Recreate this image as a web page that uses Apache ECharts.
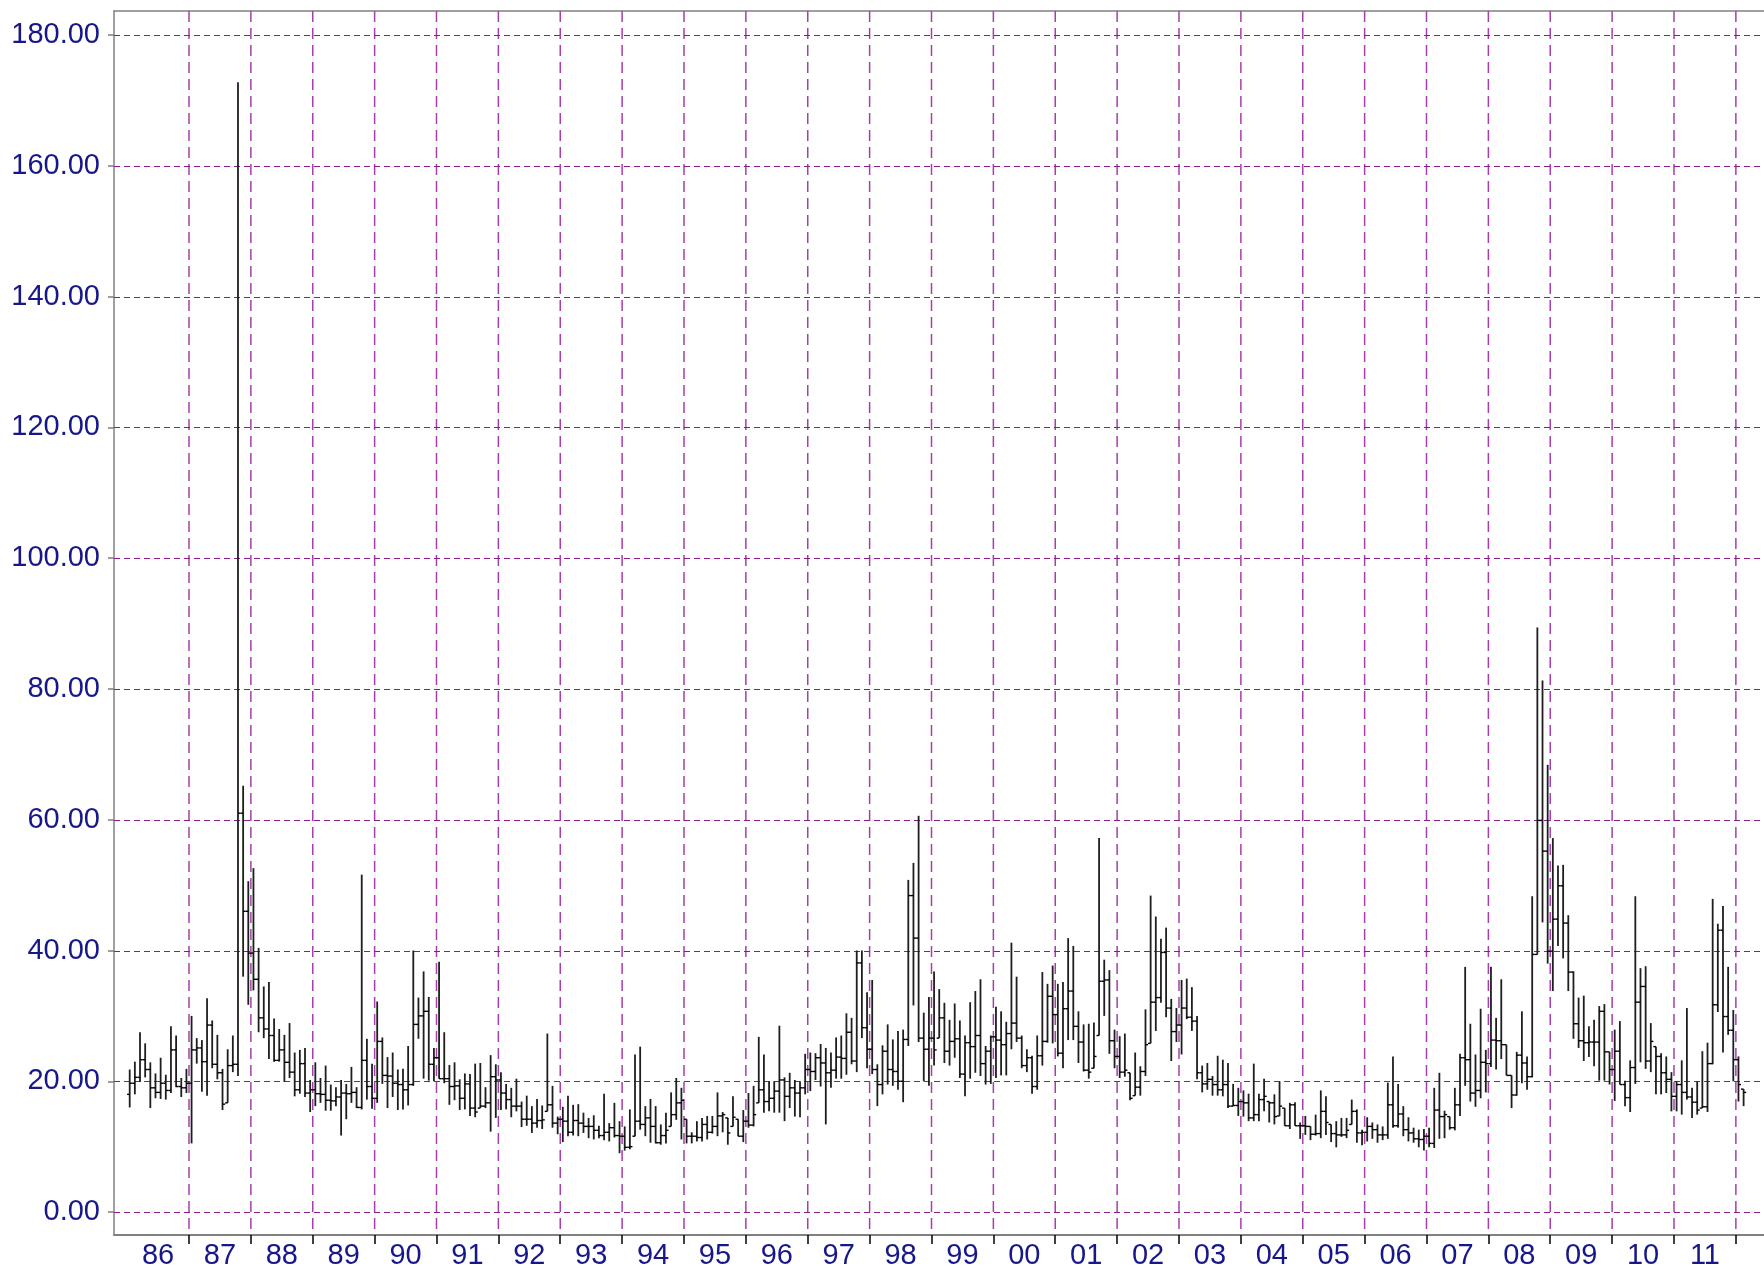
<!DOCTYPE html>
<html><head><meta charset="utf-8">
<script src="https://cdn.jsdelivr.net/npm/echarts@6/dist/echarts.min.js"></script>
<style>html,body{margin:0;padding:0;background:#fff}#c{width:1764px;height:1268px}</style>
</head><body><div id="c"></div>
<script>
// Monthly OHLC, Jan 1986 .. Feb 2012
const yearLabels = ['86','87','88','89','90','91','92','93','94','95','96','97','98','99','00','01','02','03','04','05','06','07','08','09','10','11'];
const yTicks = [0,20,40,60,80,100,120,140,160,180];
const opens = [
18.0,19.7,20.6,23.3,21.8,19.0,18.3,19.7,18.6,24.8,19.2,19.0,
19.7,24.8,25.1,23.0,28.6,22.6,21.3,16.7,22.4,22.6,61.0,46.0,
39.6,35.6,29.7,28.0,27.0,23.2,24.8,22.9,21.4,18.7,22.7,18.2,
18.7,18.1,18.0,17.1,17.0,17.6,18.2,18.1,18.3,16.0,23.2,19.2,
17.4,26.1,20.9,20.8,19.7,19.5,18.7,19.5,28.7,30.0,30.7,22.6,
23.6,20.4,20.4,19.2,19.3,17.4,19.6,15.9,15.9,16.2,16.7,20.7,
20.2,18.2,17.2,16.2,16.2,14.2,14.2,13.6,14.0,15.4,16.4,13.6,
14.2,13.9,12.2,14.0,13.6,13.1,13.1,12.5,11.7,12.2,12.9,11.7,
11.6,9.9,11.6,13.9,13.4,14.4,13.1,10.6,11.7,13.1,14.9,16.7,
14.2,11.6,11.6,11.4,13.4,12.2,13.1,14.7,14.4,13.1,14.2,11.6,
13.9,13.3,16.7,18.7,16.9,17.4,18.5,20.2,17.7,19.0,18.2,19.0,
21.8,21.5,23.6,22.8,21.3,21.7,23.7,23.5,27.5,23.1,38.1,28.2,
24.9,21.8,19.5,24.6,21.8,21.5,20.0,26.4,48.4,41.9,26.6,24.9,
26.6,26.6,29.7,24.6,26.1,26.5,21.1,25.9,25.3,27.0,22.7,24.6,
26.8,26.3,25.6,27.3,28.9,26.6,22.4,23.6,19.2,23.9,26.1,33.0,
30.2,24.3,31.1,33.8,28.4,26.0,21.7,22.0,27.0,35.3,35.5,26.2,
23.8,21.4,21.3,17.8,19.1,21.5,25.8,32.1,32.8,39.7,31.2,27.6,
28.6,31.2,29.8,29.2,21.3,19.6,20.3,19.5,18.7,19.5,16.2,16.3,
16.9,16.7,14.4,14.9,17.2,16.9,16.7,14.7,15.9,13.2,16.4,13.2,
13.2,13.1,11.9,12.0,15.4,13.4,12.0,11.8,11.8,13.4,15.4,12.1,
12.2,13.1,12.6,11.8,11.8,16.4,13.2,15.0,12.6,12.1,11.2,11.1,
11.6,10.5,15.6,14.6,14.6,12.9,16.4,23.6,23.3,18.2,18.6,22.9,
22.7,26.3,26.2,25.6,20.9,17.9,24.0,22.8,20.7,39.4,59.9,55.2,
39.9,44.8,49.9,44.2,36.7,28.8,26.2,25.9,26.0,26.0,30.7,24.5,
21.8,24.6,19.5,17.5,22.1,32.1,34.5,23.1,25.3,23.8,21.3,20.3,
17.7,19.5,18.3,17.6,16.8,15.9,16.1,22.7,31.7,43.1,29.9,27.8,
23.3,18.8];
const highs = [
21.8,23.0,27.5,25.8,22.9,21.2,23.6,21.0,28.4,27.0,20.5,21.9,
30.0,26.6,26.3,32.7,29.3,27.1,21.9,24.9,27.0,172.8,65.2,50.6,
52.6,40.4,34.5,35.2,29.6,28.0,27.1,28.9,24.4,24.8,25.1,20.2,
22.9,20.5,22.4,19.5,19.1,20.2,19.6,22.2,19.1,51.6,26.5,22.7,
32.2,26.7,23.7,24.4,21.8,21.9,25.4,40.0,32.8,36.8,32.9,25.1,
38.3,27.5,22.5,22.9,20.3,21.2,21.1,22.7,22.8,19.1,24.0,22.6,
21.4,19.6,19.0,20.4,16.9,17.8,16.2,17.3,16.3,27.3,19.3,14.6,
16.1,17.8,16.4,16.5,15.2,14.4,14.8,13.2,18.1,13.6,16.7,13.9,
13.1,15.7,24.1,25.3,16.2,17.3,16.2,13.4,15.2,18.3,20.5,19.0,
14.2,12.2,13.9,14.4,14.7,14.7,18.3,15.3,14.4,17.7,14.2,15.6,
18.2,19.3,26.8,24.1,20.0,20.0,28.5,20.6,21.3,20.2,20.0,24.2,
24.4,24.3,25.7,25.1,24.4,26.7,27.0,30.4,29.7,40.0,40.0,33.6,
35.5,22.6,25.5,28.7,26.4,27.7,27.9,50.8,53.4,60.6,30.5,32.9,
36.8,34.1,32.0,29.4,31.9,29.3,27.0,32.1,33.8,35.6,25.4,27.0,
31.4,30.7,29.1,41.2,36.0,27.0,24.9,23.9,27.0,36.7,34.9,37.7,
34.9,35.2,41.9,40.7,30.7,28.7,28.8,29.0,57.2,38.6,37.0,27.9,
26.9,27.3,21.3,24.4,22.3,31.0,48.4,45.2,41.8,43.5,32.6,31.2,
35.5,35.7,34.4,30.0,22.4,22.8,20.8,23.9,23.3,22.8,19.6,19.0,
18.6,18.1,22.7,18.1,20.4,16.9,18.0,20.0,15.9,16.7,16.8,13.7,
14.7,13.1,14.9,18.6,17.7,13.4,13.9,14.4,14.4,17.2,15.7,12.6,
14.5,13.7,13.4,13.1,19.8,23.8,19.6,16.2,14.5,12.9,12.6,12.7,
12.9,19.0,21.3,15.5,14.6,19.0,24.2,37.5,28.8,24.1,31.1,24.8,
37.5,29.7,35.6,25.6,20.9,24.5,30.7,23.8,48.3,89.4,81.3,68.4,
57.2,53.0,53.1,45.4,36.8,32.8,33.1,28.4,29.4,31.5,31.8,24.5,
27.9,29.2,20.1,23.2,48.3,37.3,37.6,28.9,25.3,24.3,23.8,21.4,
20.0,23.2,31.2,19.0,20.0,24.6,25.9,47.9,44.1,46.8,37.5,30.9,
23.8,18.8];
const lows = [
16.0,18.0,19.9,20.6,15.9,17.4,17.3,17.2,18.2,19.1,17.6,18.2,
10.5,22.7,18.4,17.8,22.0,20.3,15.6,16.7,21.4,20.8,36.0,31.7,
33.9,27.5,26.6,23.4,23.0,23.0,19.9,20.5,17.7,18.1,17.6,15.3,
16.2,16.7,15.5,15.5,16.2,11.7,14.2,16.7,15.9,15.7,17.2,15.8,
16.7,19.6,15.9,17.6,15.6,15.7,16.3,19.3,26.5,20.4,20.1,20.0,
20.4,19.7,16.4,17.1,15.6,15.7,14.7,14.5,15.9,15.9,12.3,14.4,
15.6,15.7,14.5,15.4,13.0,13.2,12.1,12.9,12.7,15.4,12.9,11.9,
10.7,11.6,11.7,11.6,12.1,11.3,11.1,11.3,11.0,10.8,11.4,9.0,
9.4,9.6,11.6,12.6,11.6,10.6,10.5,10.3,10.5,13.1,14.1,11.1,
10.5,10.5,10.8,10.8,11.1,12.0,11.6,12.2,10.3,13.1,11.6,10.7,
12.9,13.1,16.7,15.2,15.4,15.2,15.2,13.9,15.9,14.6,14.5,18.0,
18.5,20.2,19.2,13.4,19.0,20.4,20.4,21.0,22.6,21.4,26.6,22.0,
21.1,16.2,18.0,19.5,19.3,18.7,16.8,25.4,31.6,26.0,20.0,19.3,
22.4,26.6,22.8,22.4,23.6,20.5,17.7,20.4,21.3,20.8,19.5,19.6,
20.5,20.9,20.9,24.9,26.0,22.0,21.4,18.1,18.7,22.4,25.9,25.8,
23.8,22.0,26.3,26.3,22.8,21.5,20.4,22.0,27.0,30.0,24.2,22.0,
20.5,20.7,17.1,17.8,17.8,20.8,25.8,27.7,32.0,29.8,23.1,26.0,
24.1,29.5,27.7,20.3,18.3,18.7,17.8,17.8,17.7,15.9,16.2,14.7,
14.6,13.9,13.9,13.9,15.4,13.7,13.4,14.7,13.2,12.7,13.2,11.2,
11.8,11.0,11.7,11.3,11.8,10.7,9.9,11.5,11.3,13.4,10.6,10.2,
10.8,11.2,10.6,11.0,11.2,12.9,12.9,11.6,10.8,10.6,9.9,9.4,
9.9,9.8,11.2,11.3,12.6,12.5,14.7,19.3,16.9,16.1,17.4,18.3,
22.2,21.8,23.4,20.9,15.9,17.8,19.7,18.7,20.6,39.4,44.3,38.0,
33.8,40.7,38.8,33.8,26.5,25.1,23.1,23.7,22.3,20.1,20.1,19.5,
17.0,19.5,16.2,15.3,19.6,22.9,21.9,21.4,18.0,18.0,18.2,15.4,
15.4,14.9,17.2,14.4,14.9,15.9,15.3,22.6,30.6,24.4,27.1,20.0,
16.9,16.2];
const closes = [
19.7,20.6,23.3,21.8,19.0,18.3,19.7,18.6,24.8,19.2,19.0,19.7,
24.8,25.1,23.0,28.6,22.6,21.3,16.5,22.4,22.6,61.0,46.0,39.6,
35.6,29.7,28.0,27.0,23.2,24.8,22.9,21.4,18.7,22.7,18.2,18.7,
18.1,18.0,17.1,17.0,17.6,18.2,18.1,18.3,16.0,23.2,19.2,17.4,
26.1,20.9,20.8,19.7,19.5,18.7,19.5,28.7,30.0,30.7,22.6,23.6,
20.4,20.4,19.2,19.3,17.4,19.6,15.9,15.3,16.2,16.7,20.7,20.2,
18.2,17.2,16.2,16.2,14.2,14.2,13.6,14.0,14.1,16.4,13.6,14.2,
13.9,12.2,14.0,13.6,13.1,13.1,12.5,11.7,12.2,12.9,11.7,11.6,
9.9,10.0,13.9,13.4,14.4,13.1,10.6,11.7,12.5,14.9,16.7,17.1,
11.6,11.6,11.4,13.4,12.2,13.1,14.7,14.9,12.1,14.5,11.6,13.9,
13.3,14.9,18.7,16.9,17.4,18.5,20.2,17.7,19.0,18.2,19.0,21.8,
21.5,23.6,22.8,21.3,21.7,23.7,23.5,27.5,23.1,38.1,28.2,24.9,
21.8,19.5,24.6,21.8,21.5,20.0,26.4,48.4,41.9,26.6,24.9,26.6,
24.8,29.7,24.6,26.1,26.5,21.1,25.9,25.3,27.0,22.7,24.6,26.8,
26.3,25.6,27.3,28.9,26.6,22.4,23.6,19.2,23.9,26.1,33.0,30.2,
24.3,31.1,33.8,28.4,26.0,21.7,21.4,23.8,35.3,35.5,26.2,23.8,
21.4,21.7,17.4,19.1,21.5,25.6,32.1,32.8,39.7,31.2,27.6,28.6,
31.2,29.8,29.2,21.3,19.6,20.3,19.5,18.7,19.5,16.2,16.3,16.9,
16.7,14.4,14.9,17.2,17.7,16.7,14.6,16.2,13.2,16.4,13.2,13.2,
13.1,11.9,12.0,15.4,13.7,12.0,11.8,11.8,12.5,15.4,12.1,12.2,
13.1,12.6,11.8,11.8,16.4,13.2,15.0,12.6,12.1,11.2,11.1,11.6,
10.5,15.6,14.6,14.9,12.9,16.4,23.6,23.3,18.2,18.6,22.9,22.7,
26.3,26.2,25.6,20.9,17.9,24.0,22.8,20.7,39.4,59.9,55.2,39.9,
44.8,49.9,44.2,36.7,28.8,26.2,25.9,26.0,26.0,30.7,24.5,21.8,
24.6,19.5,17.5,22.1,32.1,34.5,23.1,26.1,23.8,21.3,20.3,17.7,
19.5,18.3,17.6,16.8,15.6,16.1,22.7,31.7,43.1,29.9,27.8,23.3,
19.5,18.3];

// x axis unit: months since Jan 1986; each bar sits in the middle of its month slot
const yearStarts = yearLabels.map((_, k) => (k + 1) * 12);     // 1987 .. 2012 boundaries
const yearMids = yearLabels.map((_, k) => k * 12 + 6);
const ohlc = opens.map((o, i) => [i + 0.5, o, closes[i], lows[i], highs[i]]);

const NAVY = '#17178a';
const FONT = '"Liberation Sans", Arial, Helvetica, sans-serif';
const X_MIN = -2.545, X_MAX = 317.455;

const chart = echarts.init(document.getElementById('c'), null, {renderer: 'canvas'});
chart.setOption({
  animation: false,
  backgroundColor: '#ffffff',
  grid: {left: 114, right: 0, top: 11, bottom: 33, containLabel: false, outerBoundsMode: 'none'},
  xAxis: [{
    type: 'value', min: X_MIN, max: X_MAX, position: 'bottom',
    axisLine: {show: true, onZero: false, lineStyle: {color: '#808080', width: 2}},
    axisTick: {show: true, customValues: yearStarts, length: 9, lineStyle: {color: '#000', width: 1.5}},
    axisLabel: {show: true, customValues: yearMids, formatter: v => yearLabels[Math.round((v - 6) / 12)],
      color: NAVY, fontSize: 29, fontFamily: FONT, margin: 6},
    splitLine: {show: false}
  }, {
    type: 'value', min: X_MIN, max: X_MAX, position: 'top',
    axisLine: {show: true, onZero: false, lineStyle: {color: '#808080', width: 1.5}},
    axisTick: {show: false}, axisLabel: {show: false}, splitLine: {show: false}
  }],
  yAxis: {
    type: 'value', min: -3.51, max: 183.69,
    axisLine: {show: true, onZero: false, lineStyle: {color: '#808080', width: 1.5}},
    axisTick: {show: true, customValues: yTicks, length: 6, lineStyle: {color: '#808080', width: 1.5}},
    axisLabel: {show: true, customValues: yTicks, formatter: v => v.toFixed(2),
      color: NAVY, fontSize: 29, fontFamily: FONT, margin: 14},
    splitLine: {show: false}
  },
  series: [{
    // vertical year gridlines
    type: 'custom', z: 1, silent: true,
    data: yearStarts.map(m => [m, 0]),
    encode: {x: 0, y: 1},
    renderItem: function (params, api) {
      const cs = params.coordSys;
      const p = api.coord([api.value(0), 0]);
      return {type: 'line', shape: {x1: p[0], y1: cs.y, x2: p[0], y2: cs.y + cs.height},
        style: {stroke: '#a53fab', lineWidth: 1.5, lineDash: [11, 6]}};
    }
  }, {
    // horizontal value gridlines
    type: 'custom', z: 1, silent: true,
    data: yTicks.map(v => [0, v]),
    encode: {x: 0, y: 1},
    renderItem: function (params, api) {
      const cs = params.coordSys;
      const y = Math.round(api.coord([0, api.value(1)])[1]) + 0.5;
      return {type: 'line', shape: {x1: cs.x, y1: y, x2: cs.x + cs.width, y2: y},
        style: {stroke: '#8c1a8c', lineWidth: 1, lineDash: [6, 4]}};
    }
  }, {
    type: 'custom', z: 5, silent: true,
    data: ohlc,
    encode: {x: 0, y: [1, 2, 3, 4]},
    renderItem: function (params, api) {
      const x = api.value(0);
      const pH = api.coord([x, api.value(4)]);
      const pL = api.coord([x, api.value(3)]);
      const pO = api.coord([x, api.value(1)]);
      const pC = api.coord([x, api.value(2)]);
      const bar = {stroke: '#1e1e1e', lineWidth: 1.8};
      const tk = {stroke: '#000', lineWidth: 1.4};
      return {type: 'group', children: [
        {type: 'line', shape: {x1: pH[0], y1: pH[1], x2: pL[0], y2: pL[1]}, style: bar},
        {type: 'line', shape: {x1: pO[0] - 2.6, y1: pO[1], x2: pO[0], y2: pO[1]}, style: tk},
        {type: 'line', shape: {x1: pC[0], y1: pC[1], x2: pC[0] + 2.6, y2: pC[1]}, style: tk}
      ]};
    }
  }]
});
</script></body></html>
